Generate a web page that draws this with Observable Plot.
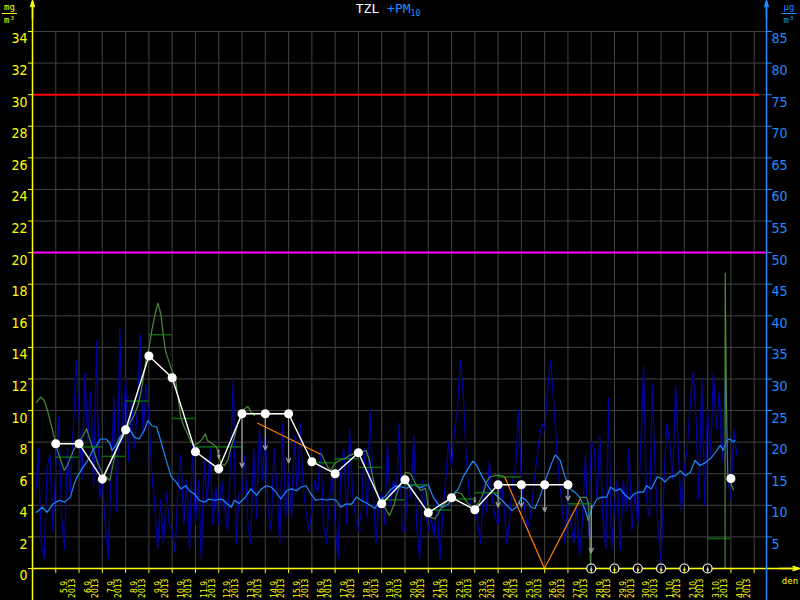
<!DOCTYPE html>
<html>
<head>
<meta charset="utf-8">
<script src="https://cdn.jsdelivr.net/npm/d3@7"></script>
<script src="https://cdn.jsdelivr.net/npm/@observablehq/plot@0.6"></script>
<style>
  html, body { margin: 0; padding: 0; background: #000; }
  #chart { width: 800px; height: 600px; }
  svg { display: block; }
</style>
</head>
<body>
<div id="chart"></div>
<script>
// ---------------- data ----------------
const dayLabels = ["5.9.","6.9.","7.9.","8.9.","9.9.","10.9.","11.9.","12.9.","13.9.","14.9.",
  "15.9.","16.9.","17.9.","18.9.","19.9.","20.9.","21.9.","22.9.","23.9.","24.9.",
  "25.9.","26.9.","27.9.","28.9.","29.9.","30.9.","1.10.","2.10.","3.10.","4.10."];
const yearLabel = "2013";
const leftTicks = [0,2,4,6,8,10,12,14,16,18,20,22,24,26,28,30,32,34];
const rightTicks = [5,10,15,20,25,30,35,40,45,50,55,60,65,70,75,80,85];
const tzlLimit = 30;   // mg/m3 (left axis)
const pm10Limit = 50;  // ug/m3 (right axis)

// PM10, ug/m3, every 3 hours from 4.9.2013 00:00
const pm10Step = 3;
const pm10Values = [
  null,11,19,4,1.5,16,18,6,
  16,24,8,3,19,12,22,33,
  24,14,31,20,28,13,36,11,
  14,7,1.5,15,27,9,38,20,
  30,17,27,19,25,37,21,29,
  24,15,10,3,11,4,12,7,
  6,2.5,13,18,7,14,3,20,
  7,14,1.5,17,10,19,7,13,
  7,14,10,6,17,30,4,12,
  12,18,7,4,19,8,22,14,
  21,9,6,19,13,4,23,8,
  15,8,21,12,23,13,9,6,
  9,14,12,19,7,4,11,15,
  7,1.5,16,19,7,22,12,8,
  6,9,19,8,25,13,4,10,
  12,7,20,10,14,11,23,6,
  6,14,11,21,7,1.5,14,9,
  6,8,5,11,1.5,9,14,20,
  16,22,25,33,28,18,12,9,
  10,7,4,14,9,17,11,8,
  7,14,10,4,8,14,16,25,
  14,10,6,8,12,16,20,23,
  22,28,33,27,20,14,10,4,
  12,7,4,10,2,8,18,5,
  20,19,11,21,8,3,27,3,
  10,14,3,14,9,19,6,12,
  7,19,32,11,8,29,15,6,
  1,14,23,20,14,29,18,9,
  16,19,26,31,24,11,30,10,
  25,18,31,22,28,17,30,14,
  11,22,18
];

// PM10 running mean, ug/m3 (hours since 4.9. 00:00)
const pm10AvgHours = [4,10,15,21,28,33,39,43,46,52,57,62,67,70,76,80,82,86,90,95,
  100,105,110,115,119,123,128,132,137,143,148,153,158,162,167,172,177,182,188,195,
  201,205,208,213,219,225,231,236,241,246,251,256,262,267,272,277,282,287,292,298,
  303,308,313,318,323,329,334,339,346,353,358,363,370,375,386,393,400,408,413,418,
  423,429,434,439,444,449,454,458,463,468,473,478,484,489,494,499,504,509,514,518,
  523,530,535,539,544,549,554,559,564,570,573,577,582,587,592,596,601,606,611,616,
  620,625,630,633,638,644,649,652,657,663,668,673,678,683,688,694,699,704,709,712,
  716,719,723,724];
const pm10AvgValues = [8.9,9.7,8.9,10.2,10.8,10.5,11.3,13.4,14.5,16.0,17.1,18.7,19.7,20.5,20.5,19.7,18.7,19.5,20.8,21.8,
  22.1,20.8,20.5,21.8,23.4,22.6,22.4,20.3,17.6,14.5,13.7,12.6,13.1,12.3,11.8,10.8,10.5,11.0,10.8,11.0,
  10.2,9.7,10.8,10.3,11.2,12.6,11.6,12.6,13.1,12.9,12.1,11.0,12.3,12.6,12.3,12.9,13.1,11.8,10.8,11.0,
  10.8,11.0,10.8,9.7,10.2,10.2,11.3,10.8,10.2,9.5,10.8,11.3,12.6,13.1,12.7,13.3,12.8,13.3,11.3,10.2,
  9.7,10.2,11.8,12.6,14.5,15.8,17.0,16.3,14.7,13.4,12.3,11.6,10.8,10.0,9.2,9.7,11.3,10.8,9.7,9.5,
  11.3,14.5,16.6,18.0,17.1,14.5,12.6,12.1,11.3,9.2,7.6,9.7,11.0,11.3,11.3,12.9,12.3,12.6,11.6,11.0,
  11.8,12.1,12.1,13.1,12.6,14.5,14.2,13.7,14.5,14.7,15.5,14.7,15.2,17.1,16.3,16.8,17.4,18.4,19.5,18.7,
  20.3,20.5,20.0,20.3];

// TZL running mean, mg/m3 (null = gap)
const tzlHours = [4.1,8.6,12.1,15.5,18.9,22.4,25.8,29.2,32.7,36.1,39.5,43.0,48.1,53.3,55.7,58.5,61.9,67.0,72.2,76.3,
  79.7,82.5,85.9,90.0,94.5,99.7,104.8,109.3,113.4,116.8,120.3,123.0,126.5,129.2,132.3,135.1,137.4,140.9,144.3,147.1,
  149.5,152.9,156.4,159.8,163.2,166.7,171.9,175.3,178.0,180.4,185.6,189.7,194.5,197.9,201.3,204.8,208.2,211.6,215.1,218.6,
  222.0,225.5,228.9,null,
  295.9,297.6,301.0,304.4,307.9,311.3,316.5,321.6,326.8,332.0,338.9,344.0,347.4,350.8,354.3,357.7,362.9,368.0,373.2,374.4,
  379.4,384.5,389.7,394.8,400.0,405.2,409.6,414.7,418.2,421.6,426.8,431.9,437.1,442.3,445.7,449.2,454.3,459.5,464.6,468.0,
  471.4,476.6,481.7,485.6,null,
  564.9,571.1,573.2,575.5,714.0,714.1,715.4,716.8,720.2,722.7];
const tzlValues = [10.53,10.85,10.64,10.0,9.17,8.32,7.47,6.84,6.21,6.52,7.05,7.58,8.0,8.53,8.85,8.32,7.68,6.73,6.0,5.78,
  5.57,6.42,7.47,8.21,8.63,9.16,9.69,10.43,11.7,13.17,14.02,15.07,16.13,16.8,16.13,14.65,13.7,13.07,12.43,12.12,
  11.06,9.58,8.95,8.53,8.0,7.79,8.0,8.21,8.53,8.11,7.9,7.68,6.63,6.52,6.84,7.68,8.32,9.16,9.8,10.11,
  10.26,9.9,9.69,null,
  7.26,7.26,6.84,6.42,6.21,6.63,6.84,6.95,7.16,7.26,7.37,7.47,6.84,5.78,4.94,4.31,3.88,3.36,4.1,4.5,
  5.38,6.08,6.02,5.38,4.94,5.07,3.25,3.15,3.46,3.88,4.2,4.52,4.83,4.73,4.41,4.1,3.88,4.1,4.73,5.47,
  5.78,5.89,5.89,5.83,null,
  4.5,4.5,4.1,0,0,18.7,10.4,5.8,5.36,4.98];

// interpolated TZL over gaps (orange)
const interpHours = [232.3,295.9,null,486.9,527.8,564.9,null,613.4,623.7];
const interpValues = [9.2,7.26,null,5.78,0,4.41,null,0,0];

// daily TZL means, day index from 4.9. (dark green steps)
const tzlDailyMeans = [null,7.05,7.7,7.1,10.6,14.8,9.5,7.7,7.7,9.8,9.8,null,6.7,6.95,6.4,4.35,5.3,3.7,4.4,4.8,5.8,0,null,4.1,0,0,0,0,0,1.9,null];
// daily TZL values at midnight (white)
const tzlDailyValues = [null,7.9,7.9,5.66,8.78,13.45,12.08,7.39,6.31,9.8,9.8,9.8,6.76,6.0,7.33,4.1,5.62,3.53,4.48,3.72,5.3,5.3,5.3,5.3,null,null,null,null,null,null,5.7];
const missingDays = [24,25,26,27,28,29];
// grey arrows
const arrowDays = [8,9,10,11,19,20,21,22,23,24];
const arrowFrom = [7.5,9.8,9.8,9.8,4.5,5.3,5.3,5.3,5.3,4.0];
const arrowTo   = [7.0,6.4,7.5,6.7,4.2,3.9,3.9,3.6,4.3,1.0];

// ---------------- build ----------------
const ratio = 2.5;              // right axis units per left axis unit
const xEnd = 756.7;             // hours shown
const num = v => v == null ? NaN : v;
const yellow = "#ffff00", blue = "#1e8cff", grid = "#404040", navy = "#0000a0",
      green = "#4a8a3c", dgreen = "#0a6a0a", orange = "#ff8000", grey = "#a0a0a0";
const monoFont = "'DejaVu Sans Mono', monospace";
const condFont = "'DejaVu Sans Condensed', 'DejaVu Sans', sans-serif";

const pm10 = pm10Values.map((v, i) => ({h: i * pm10Step, v: num(v)}));
const pmAvg = pm10AvgHours.map((h, i) => ({h, v: pm10AvgValues[i]}));
const tzl = tzlHours.map((h, i) => ({h: num(h), v: num(tzlValues[i])}));
const interp = interpHours.map((h, i) => ({h: num(h), v: num(interpValues[i])}));
const daily = tzlDailyMeans.map((v, d) => ({d, v})).filter(o => o.v != null);
const dots = tzlDailyValues.map((v, d) => ({d, v: num(v)}));
const arrows = arrowDays.map((d, i) => ({d, a: arrowFrom[i], b: arrowTo[i]}));
const midnights = d3.range(1, 32).map(d => d * 24);
const labelDays = dayLabels.map((t, i) => ({d: i + 1, t}));

const plot = Plot.plot({
  width: 800, height: 600,
  marginLeft: 32, marginRight: 34, marginTop: 31, marginBottom: 32,
  style: {background: "#000", fontFamily: monoFont, overflow: "visible"},
  x: {domain: [0, xEnd], axis: null},
  y: {domain: [0, 34], axis: null},
  marks: [
    // grid
    Plot.ruleY(leftTicks.filter(v => v > 0), {y: d => d, x1: () => 0, x2: () => xEnd, stroke: grid, strokeWidth: 1}),
    Plot.ruleX(midnights, {x: d => d, y1: () => 0, y2: () => 34, stroke: grid, strokeWidth: 1}),
    // limits
    Plot.ruleY([tzlLimit], {y: d => d, x1: () => 0, x2: () => 749.5, stroke: "#ff0000", strokeWidth: 2}),
    Plot.ruleY([pm10Limit], {y: d => d / ratio, x1: () => 0, x2: () => xEnd, stroke: "#ff00ff", strokeWidth: 2}),
    // PM10 hourly
    Plot.line(pm10, {x: "h", y: d => d.v / ratio, stroke: navy, strokeWidth: 1.3}),
    // PM10 running mean
    Plot.line(pmAvg, {x: "h", y: d => d.v / ratio, stroke: blue, strokeWidth: 1.2}),
    // TZL daily means
    Plot.ruleY(daily, {y: "v", x1: d => d.d * 24, x2: d => d.d * 24 + 24, stroke: dgreen, strokeWidth: 1.5}),
    // TZL running
    Plot.line(tzl, {x: "h", y: "v", stroke: green, strokeWidth: 1.2}),
    Plot.line(interp, {x: "h", y: "v", stroke: orange, strokeWidth: 1.2}),
    // grey arrows
    Plot.arrow(arrows, {x1: d => d.d * 24, x2: d => d.d * 24, y1: "a", y2: "b", stroke: grey, strokeWidth: 1.2, headLength: 6, headAngle: 50}),
    // white daily line + dots
    Plot.line(dots, {x: d => d.d * 24, y: "v", stroke: "#fff", strokeWidth: 1.4}),
    Plot.dot(dots.filter(d => !isNaN(d.v)), {x: d => d.d * 24, y: "v", r: 3.8, fill: "#fff", stroke: "#fff"}),
    // axes lines
    Plot.ruleY([0], {y: d => d, x1: () => 0, x2: () => 790.7, stroke: yellow, strokeWidth: 1.5}),
    Plot.ruleX([0], {x: d => d, y1: () => -2.1, y2: () => 35.9, stroke: yellow, strokeWidth: 1.5}),
    Plot.ruleX([xEnd], {x: d => d, y1: () => -2.1, y2: () => 35.9, stroke: blue, strokeWidth: 1.5}),
    Plot.arrow([0], {x1: d => d, x2: d => d, y1: () => 34.8, y2: () => 35.95, stroke: yellow, strokeWidth: 1.5, headLength: 15, headAngle: 34}),
    Plot.arrow([xEnd], {x1: d => d, x2: d => d, y1: () => 34.8, y2: () => 35.95, stroke: blue, strokeWidth: 1.5, headLength: 15, headAngle: 34}),
    Plot.arrow([0], {y1: d => d, y2: d => d, x1: () => 770, x2: () => 790.7, stroke: yellow, strokeWidth: 1.5, headLength: 16, headAngle: 36}),
    // missing-day markers
    Plot.dot(missingDays, {x: d => d * 24, y: () => 0, r: 4.5, fill: "#000", stroke: "#fff", strokeWidth: 1.2}),
    Plot.text(missingDays, {x: d => d * 24, y: () => 0, text: () => "↓", fill: "#fff", fontSize: 7, fontFamily: condFont}),
    // tick marks
    Plot.axisY({ticks: leftTicks, anchor: "left", tickSize: 4, tickFormat: () => "", color: yellow, label: null}),
    Plot.axisY({ticks: rightTicks.map(v => v / ratio), anchor: "right", tickSize: 5, tickFormat: () => "", color: blue, label: null}),
    Plot.axisX({ticks: midnights, anchor: "bottom", tickSize: 5, tickFormat: () => "", color: yellow, label: null}),
    // tick labels
    Plot.text(leftTicks, {y: d => d, text: d => String(d), frameAnchor: "left", dx: -5, dy: 7.5, textAnchor: "end", fill: yellow, fontSize: 14, fontFamily: condFont}),
    Plot.text(rightTicks, {y: d => d / ratio, text: d => String(d), frameAnchor: "right", dx: 5, dy: 7.5, textAnchor: "start", fill: blue, fontSize: 14, fontFamily: condFont}),
    Plot.text(labelDays, {x: d => d.d * 24 + 12, text: "t", frameAnchor: "bottom", dy: 10, rotate: -90, textAnchor: "end", fill: yellow, fontSize: 8.5, fontFamily: condFont}),
    Plot.text(labelDays, {x: d => d.d * 24 + 12, text: () => yearLabel, frameAnchor: "bottom", dy: 10, dx: 7.5, rotate: -90, textAnchor: "end", fill: yellow, fontSize: 8.5, fontFamily: condFont})
  ]
});

document.getElementById("chart").appendChild(plot);

// ---------------- title & units ----------------
const svg = d3.select(plot);
const title = svg.append("text").attr("x", 388).attr("y", 13)
  .attr("font-family", monoFont).attr("font-size", 13);
title.append("tspan").attr("fill", "#fff").text("TZL ");
title.append("tspan").attr("fill", blue).text("+PM");
title.append("tspan").attr("fill", blue).attr("font-size", 8).attr("dy", 3).text("10");

function unit(x, top, color) {
  svg.append("text").attr("x", x).attr("y", 10).attr("text-anchor", "middle")
    .attr("font-family", monoFont).attr("font-size", 9).attr("fill", color).text(top);
  svg.append("line").attr("x1", x - 7.5).attr("x2", x + 7.5).attr("y1", 13.5).attr("y2", 13.5)
    .attr("stroke", color).attr("stroke-width", 1);
  svg.append("text").attr("x", x).attr("y", 23).attr("text-anchor", "middle")
    .attr("font-family", monoFont).attr("font-size", 9).attr("fill", color).text("m³");
}
unit(9.5, "mg", yellow);
unit(789, "µg", blue);
svg.append("text").attr("x", 790).attr("y", 584).attr("text-anchor", "middle")
  .attr("font-family", monoFont).attr("font-size", 9).attr("fill", yellow).text("den");
</script>
</body>
</html>
